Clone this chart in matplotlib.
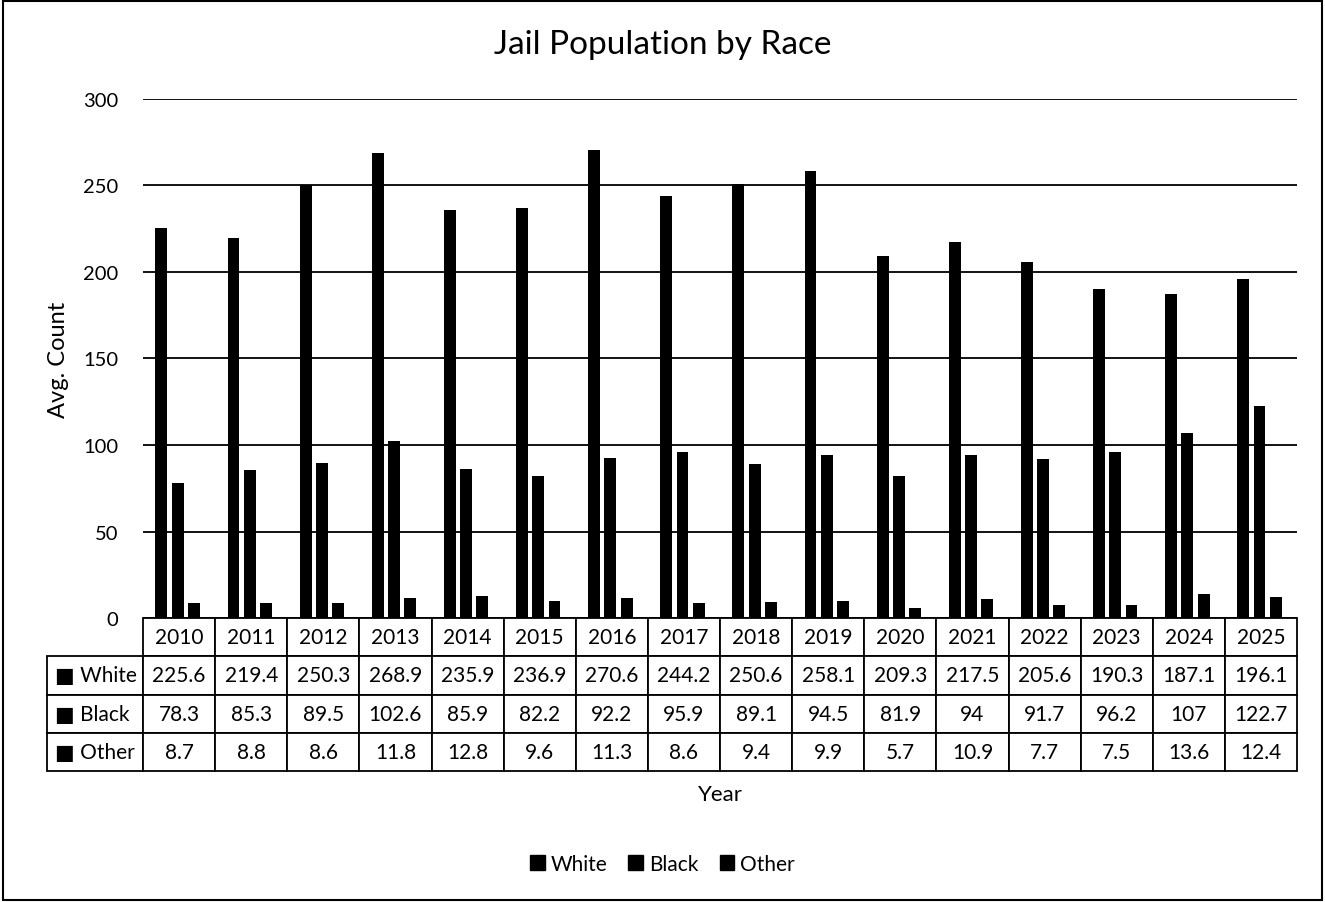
import matplotlib
matplotlib.use("Agg")
import matplotlib.pyplot as plt
from matplotlib.patches import Patch, Rectangle
import numpy as np

plt.rcParams['font.family'] = ['Lato', 'DejaVu Sans']

years = [str(y) for y in range(2010, 2026)]
series = ['White', 'Black', 'Other']
white = [225.6, 219.4, 250.3, 268.9, 235.9, 236.9, 270.6, 244.2,
         250.6, 258.1, 209.3, 217.5, 205.6, 190.3, 187.1, 196.1]
black = [78.3, 85.3, 89.5, 102.6, 85.9, 82.2, 92.2, 95.9,
         89.1, 94.5, 81.9, 94, 91.7, 96.2, 107, 122.7]
other = [8.7, 8.8, 8.6, 11.8, 12.8, 9.6, 11.3, 8.6,
         9.4, 9.9, 5.7, 10.9, 7.7, 7.5, 13.6, 12.4]
yticks = [0, 50, 100, 150, 200, 250, 300]

W, H = 1325, 903
fig = plt.figure(figsize=(W / 100, H / 100), dpi=100)

# axes placed in pixel terms
ax_l, ax_r, ax_t, ax_b = 143, 1297, 100, 619
ax = fig.add_axes([ax_l / W, 1 - ax_b / H, (ax_r - ax_l) / W, (ax_b - ax_t) / H])

x = np.arange(len(years))
width = 0.165
offsets = [-0.245, -0.02, 0.205]
for vals, off, name in zip([white, black, other], offsets, series):
    ax.bar(x + off, vals, width=width, color='black', label=name, zorder=3)

ax.set_xlim(-0.5, len(years) - 0.5)
ax.set_ylim(0, 300)
ax.set_yticks(yticks)
ax.tick_params(axis='y', length=0, labelsize=14.5, pad=18)
ax.set_xticks([])
ax.grid(axis='y', color='black', linewidth=1.3, zorder=0)
for s in ax.spines.values():
    s.set_visible(False)
ax.set_ylabel('Avg. Count', fontsize=17, labelpad=10)

# data table under the plot (bbox covers the year/value grid only)
cell_text = [[f"{v:g}" for v in vals] for vals in [white, black, other]]
row_labels = ['\u25a0 ' + s for s in series]
axh = ax_b - ax_t
tbl_bottom = 772
tbl = ax.table(cellText=cell_text, rowLabels=row_labels, colLabels=years,
               colWidths=[1 / len(years)] * len(years),
               cellLoc='center', rowLoc='left', colLoc='center',
               bbox=[0, -(tbl_bottom - ax_b) / axh, 1, (tbl_bottom - ax_b) / axh])
tbl.auto_set_font_size(False)
tbl.set_fontsize(15)
for (r, c), cell in tbl.get_celld().items():
    cell.set_edgecolor('black')
    cell.set_linewidth(1.3)
    if c == -1:
        cell.PAD = 0.085  # label column is auto-sized from its text

ax.text(0.5, -(795 - ax_b) / axh, 'Year', transform=ax.transAxes,
        ha='center', va='center', fontsize=16)

fig.text(0.5, 1 - 45 / H, 'Jail Population by Race', ha='center', va='center',
         fontsize=24)

handles = [Patch(facecolor='black', edgecolor='black', label=s) for s in series]
fig.legend(handles=handles, loc='center', bbox_to_anchor=(0.5, 1 - 865 / H),
           ncol=3, frameon=False, fontsize=15, handlelength=0.7,
           handleheight=0.7, handletextpad=0.3, columnspacing=1.0)

# chart border
fig.patches.append(Rectangle((0.002, 0.002), 0.996, 0.996, transform=fig.transFigure,
                             fill=False, edgecolor='black', linewidth=1.5))

fig.savefig('out.png', dpi=100)
